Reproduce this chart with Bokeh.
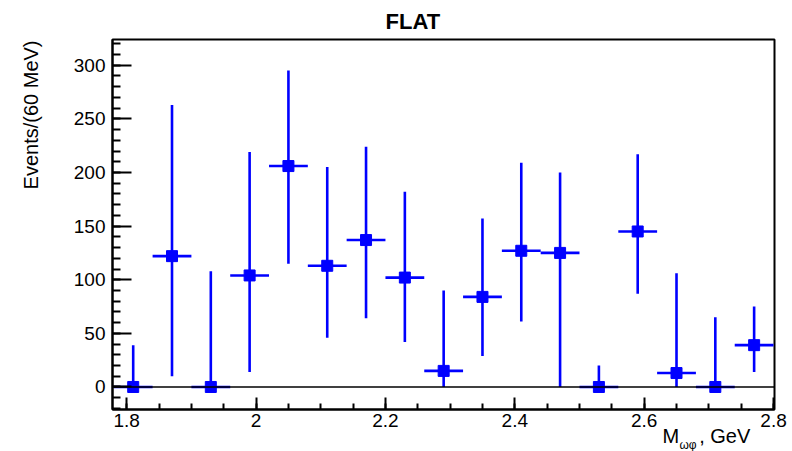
import numpy as np
from bokeh.plotting import figure
from bokeh.models import (Range1d, FixedTicker, NumeralTickFormatter, Span,
                          ColumnDataSource, Title, LinearAxis, CustomJSTickFormatter)
from bokeh.embed import file_html
from bokeh.resources import INLINE

# ---- data ----
mass = [1.81, 1.87, 1.93, 1.99, 2.05, 2.11, 2.17, 2.23, 2.29, 2.35, 2.41, 2.47,
        2.53, 2.59, 2.65, 2.71, 2.77]
events = [0, 122, 0, 104, 206, 113, 137, 102, 15, 84, 127, 125, 0, 145, 13, 0, 39]
err_up = [39, 263, 108, 219, 295, 205, 224, 182, 90, 157, 209, 200, 20, 217, 106, 65, 75]
err_low = [0, 10, 0, 14, 115, 46, 64, 42, 0, 29, 61, 0, 0, 87, 0, 0, 14]
bin_half = 0.03

x_ticks = [1.8, 2.0, 2.2, 2.4, 2.6, 2.8]
x_minor = [round(1.8 + 0.05 * i, 2) for i in range(21)]
y_ticks = [0, 50, 100, 150, 200, 250, 300]
y_minor = list(range(-20, 330, 10))

title_text = "FLAT"
ylabel_text = "Events/(60 MeV)"
xlabel_main = "M\u2002\u2002, GeV"
xlabel_sub = "ωφ"

src = ColumnDataSource(dict(
    x=mass, y=events, lo=err_low, hi=err_up,
    x0=[m - bin_half for m in mass], x1=[m + bin_half for m in mass],
))

p = figure(width=792, height=451, output_backend="svg", toolbar_location=None,
           x_range=Range1d(1.778, 2.8015), y_range=Range1d(-21, 324),
           min_border_left=112, min_border_right=18, min_border_top=39,
           min_border_bottom=42)
p.background_fill_color = "white"
p.border_fill_color = "white"
p.outline_line_color = "black"
p.outline_line_width = 2
p.xgrid.visible = False
p.ygrid.visible = False

BLUE = "#0000ff"
# zero line
p.add_layout(Span(location=0, dimension="width", line_color="black", line_width=1.5))

p.segment(x0="x", y0="lo", x1="x", y1="hi", source=src, line_color=BLUE, line_width=2.6)
p.segment(x0="x0", y0="y", x1="x1", y1="y", source=src, line_color=BLUE, line_width=2.6)
p.scatter(x="x", y="y", source=src, marker="square", size=11, fill_color=BLUE,
          line_color=BLUE)

# axes
xa = p.xaxis[0]
xa.ticker = FixedTicker(ticks=x_ticks, minor_ticks=x_minor)
xa.formatter = NumeralTickFormatter(format="0.[0]")
xa.major_tick_in = 12
xa.major_tick_out = 0
xa.minor_tick_in = 6
xa.minor_tick_out = 0
xa.axis_line_color = "black"
xa.axis_line_width = 2
xa.major_tick_line_width = 2
xa.minor_tick_line_width = 2
xa.major_label_standoff = 4
xa.major_label_text_font = "Liberation Sans"
xa.major_label_text_font_size = "19px"
xa.major_label_text_color = "black"

ya = p.yaxis[0]
ya.ticker = FixedTicker(ticks=y_ticks, minor_ticks=y_minor)
ya.major_tick_in = 19
ya.major_tick_out = 0
ya.minor_tick_in = 8
ya.minor_tick_out = 0
ya.axis_line_color = "black"
ya.axis_line_width = 2
ya.major_tick_line_width = 2
ya.minor_tick_line_width = 2
ya.major_label_standoff = 7
ya.major_label_text_font = "Liberation Sans"
ya.major_label_text_font_size = "19px"
ya.major_label_text_color = "black"

# blank spacer axis on the left: one white (invisible) tick, empty label
spacer = LinearAxis(ticker=FixedTicker(ticks=[150], minor_ticks=[]),
                    formatter=CustomJSTickFormatter(code="return ''"),
                    axis_line_color=None,
                    major_tick_line_color="white", minor_tick_line_color=None,
                    major_tick_in=0, major_tick_out=29, minor_tick_in=0,
                    minor_tick_out=0, major_label_standoff=0)
p.add_layout(spacer, "left")

# title
p.add_layout(Title(text=title_text, align="left", offset=273, standoff=11,
                   text_font="Liberation Sans", text_font_size="22px",
                   text_font_style="bold", text_color="black"), "above")
# y label (top aligned, rotated)
p.add_layout(Title(text=ylabel_text, align="right", offset=1, standoff=0,
                   text_font="Liberation Sans", text_font_size="20px",
                   text_font_style="normal", text_color="black"), "left")
# x label: M_{ωφ}, GeV  (right part of the below panel)
p.add_layout(Title(text=xlabel_main, align="left", offset=550, standoff=-9,
                   vertical_align="top",
                   text_font="Liberation Sans", text_font_size="20px",
                   text_font_style="normal", text_color="black"), "below")
p.add_layout(Title(text=xlabel_sub, align="left", offset=567, standoff=-14,
                   vertical_align="top",
                   text_font="Liberation Sans", text_font_size="12px",
                   text_font_style="normal", text_color="black"), "below")

open("out.html", "w").write(file_html(p, INLINE))
